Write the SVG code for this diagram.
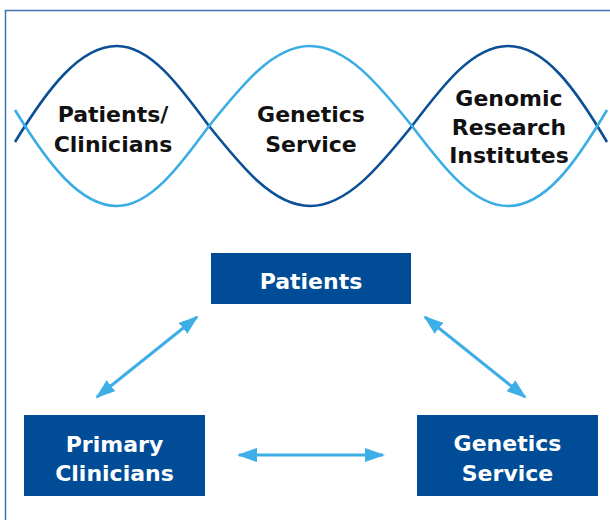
<svg xmlns="http://www.w3.org/2000/svg" width="610" height="520" viewBox="0 0 610 520">
<defs>
<style>
.frame{fill:none;stroke:#3b74b4;stroke-width:1.5}
.wave{fill:none;stroke-width:2.6}
.dark{stroke:#0b4f96}
.light{stroke:#3aaee4}
.lbl{font-family:"DejaVu Sans",sans-serif;font-weight:bold;font-size:22px;fill:#111;text-anchor:middle;font-variant-ligatures:none}
.box{fill:#004c97}
.btxt{font-family:"DejaVu Sans",sans-serif;font-weight:bold;font-size:22px;fill:#fff;text-anchor:middle;font-variant-ligatures:none}
.arr{fill:none;stroke:#3daee6;stroke-width:3;marker-start:url(#ah);marker-end:url(#ah)}
</style>
<marker id="ah" viewBox="0 0 20 14" refX="18" refY="7" markerWidth="20" markerHeight="14" markerUnits="userSpaceOnUse" orient="auto-start-reverse">
<path d="M0,0 L20,7 L0,14 Z" fill="#3daee6"/>
</marker>
</defs>
<rect class="frame" x="5.5" y="10.5" width="620" height="530"/>
<g id="helix">
<path class="wave dark" d="M15,142 C48,88 80,46 117,46 C150,46 179,85 209,126 C242,167 273,206 310,206 C347,206 379,167 412,126 C443,85 473,46 508,46 C545,46 575,88 607,142"/>
<path class="wave light" d="M15,110 C48,164 80,206 117,206 C150,206 179,167 209,126 C242,85 273,46 310,46 C347,46 379,85 412,126 C443,167 473,206 508,206 C545,206 575,164 607,110"/>
</g>
<g id="label-patients-clinicians">
<text class="lbl" x="113" y="122">Patients/</text>
<text class="lbl" x="113" y="152">Clinicians</text>
</g>
<g id="label-genetics-service">
<text class="lbl" x="311" y="122">Genetics</text>
<text class="lbl" x="311" y="152">Service</text>
</g>
<g id="label-genomic-research">
<text class="lbl" x="509" y="106">Genomic</text>
<text class="lbl" x="509" y="135">Research</text>
<text class="lbl" x="509" y="163">Institutes</text>
</g>
<g id="connectors">
<line class="arr" x1="97" y1="397" x2="197" y2="317"/>
<line class="arr" x1="425" y1="317" x2="525" y2="397"/>
<line class="arr" x1="239" y1="455" x2="383" y2="455"/>
</g>
<g id="node-patients">
<rect class="box" x="211" y="253" width="200" height="51"/>
<text class="btxt" x="311" y="289">Patients</text>
</g>
<g id="node-primary-clinicians">
<rect class="box" x="24" y="415" width="181" height="81"/>
<text class="btxt" x="114.5" y="452">Primary</text>
<text class="btxt" x="114.5" y="481">Clinicians</text>
</g>
<g id="node-genetics-service">
<rect class="box" x="417" y="415" width="181" height="81"/>
<text class="btxt" x="507.5" y="451">Genetics</text>
<text class="btxt" x="507.5" y="481">Service</text>
</g>
</svg>
